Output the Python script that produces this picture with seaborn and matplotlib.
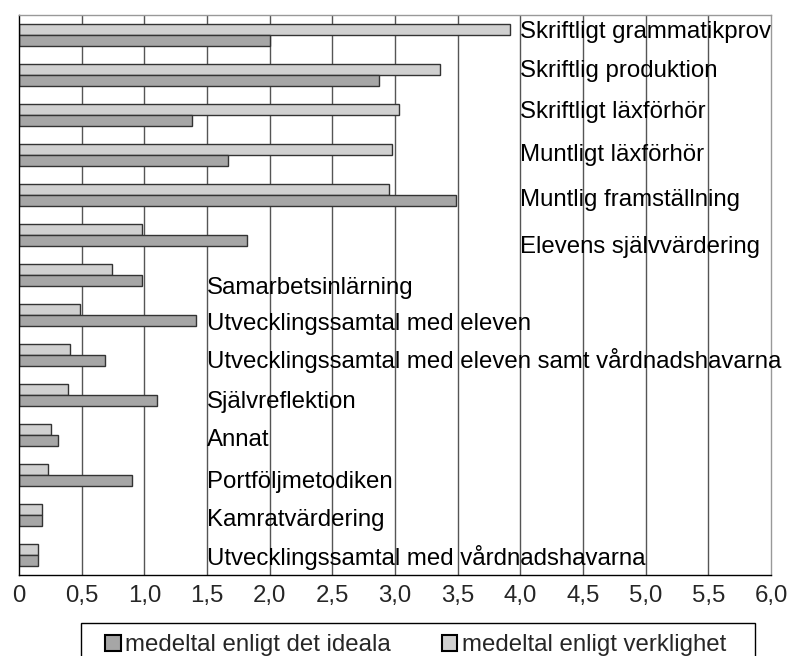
import matplotlib
matplotlib.use("Agg")
import matplotlib.pyplot as plt
import matplotlib.patches as mpatches
import numpy as np
import pandas as pd
import seaborn as sns

# data
categories = ["Skriftligt grammatikprov", "Skriftlig produktion", "Skriftligt läxförhör",
              "Muntligt läxförhör", "Muntlig framställning", "Elevens självvärdering",
              "Samarbetsinlärning", "Utvecklingssamtal med eleven",
              "Utvecklingssamtal med eleven samt vårdnadshavarna", "Självreflektion",
              "Annat", "Portföljmetodiken", "Kamratvärdering",
              "Utvecklingssamtal med vårdnadshavarna"]
verklighet = [3.92, 3.36, 3.03, 2.98, 2.95, 0.98, 0.745, 0.49, 0.41, 0.39, 0.255, 0.23, 0.18, 0.155]
ideala = [2.0, 2.87, 1.38, 1.67, 3.49, 1.82, 0.98, 1.41, 0.69, 1.10, 0.31, 0.90, 0.18, 0.155]
series_names = ["medeltal enligt det ideala", "medeltal enligt verklighet"]
x_ticks = [0, 0.5, 1.0, 1.5, 2.0, 2.5, 3.0, 3.5, 4.0, 4.5, 5.0, 5.5, 6.0]
x_ticklabels = ["0", "0,5", "1,0", "1,5", "2,0", "2,5", "3,0", "3,5", "4,0", "4,5", "5,0", "5,5", "6,0"]

# where the category names sit inside the plot (layout only)
label_x = [4.0] * 6 + [1.5] * 8
label_nudge = [-0.08, -0.1, -0.08, -0.01, 0.12, 0.3, 0.33, 0.22, 0.14, 0.18, 0.13, 0.17, 0.12, 0.05]

dark = "#a6a6a6"
light = "#d0d0d0"

df = pd.DataFrame({
    "kategori": categories * 2,
    "värde": ideala + verklighet,
    "serie": [series_names[0]] * len(categories) + [series_names[1]] * len(categories),
})

sns.set_style("white")
plt.rcParams["font.family"] = ["Liberation Sans", "DejaVu Sans"]
fs = 17.3

fig = plt.figure(figsize=(7.87, 6.56), dpi=100)
ax = fig.add_axes([19 / 787, 1 - 575 / 656, 752 / 787, 560 / 656])

sns.barplot(data=df, x="värde", y="kategori", hue="serie", orient="h",
            hue_order=[series_names[1], series_names[0]],
            palette={series_names[0]: dark, series_names[1]: light},
            width=0.567, edgecolor="#333333", linewidth=1.0, legend=False, ax=ax)

ax.set_xlim(0, 6)
ax.set_ylim(len(categories) - 0.5, -0.5)
ax.set_xticks(x_ticks)
ax.set_xticklabels(x_ticklabels, fontsize=fs)
ax.set_yticks(np.arange(len(categories) + 1) - 0.5)
ax.set_yticklabels([])
ax.set_xlabel("")
ax.set_ylabel("")
ax.tick_params(axis="x", direction="out", length=5, width=1, color="black", pad=2)
ax.tick_params(axis="y", direction="out", length=4, width=1, color="black")

# vertical grid lines
for xv in x_ticks[1:-1]:
    ax.axvline(xv, color="#555555", lw=1, zorder=0)

ax.spines["left"].set_color("black")
ax.spines["bottom"].set_color("black")
ax.spines["top"].set_color("#999999")
ax.spines["right"].set_color("#999999")
for s in ax.spines.values():
    s.set_linewidth(1)

for i, name in enumerate(categories):
    ax.text(label_x[i], i + label_nudge[i], name, fontsize=fs, va="center", ha="left",
            color="black")

# legend box (runs off the bottom edge like in the original)
fig.patches.append(mpatches.Rectangle((81 / 787, -0.05), 674 / 787, 0.05 + (656 - 623) / 656,
                                      transform=fig.transFigure, facecolor="white",
                                      edgecolor="black", lw=1))
handles = [mpatches.Patch(facecolor=dark, edgecolor="black", lw=1.5),
           mpatches.Patch(facecolor=light, edgecolor="black", lw=1.5)]
leg = fig.legend(handles, series_names, loc="center left", ncol=2, fontsize=fs,
                 bbox_to_anchor=(105 / 787, 1 - 645 / 656), frameon=False,
                 handlelength=0.65, handleheight=0.65, handletextpad=0.2,
                 columnspacing=2.1, borderpad=0, borderaxespad=0)

fig.savefig("out.png", dpi=100)
